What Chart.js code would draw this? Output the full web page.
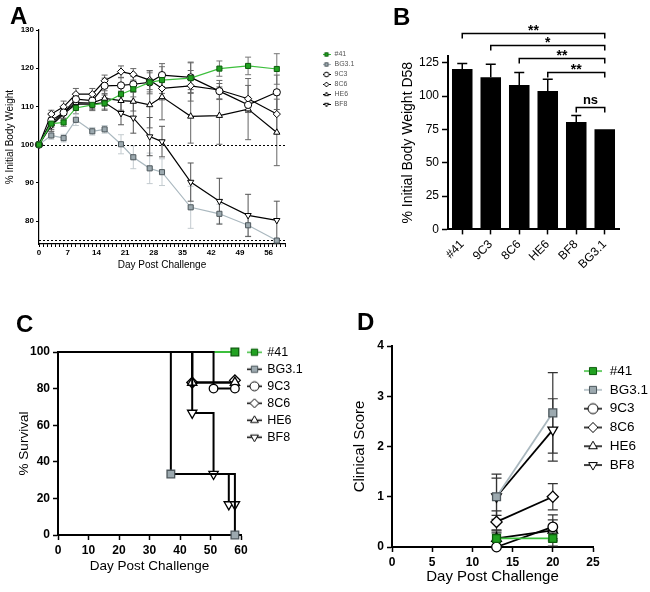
<!DOCTYPE html>
<html>
<head>
<meta charset="utf-8">
<script src="https://cdn.jsdelivr.net/npm/chart.js@4.4.1/dist/chart.umd.min.js"></script>
<style>
body{margin:0;background:#fff;}
#wrap{position:relative;width:650px;height:592px;overflow:hidden;}
canvas{position:absolute;}
.lbl{position:absolute;font:bold 24px "Liberation Sans",Arial,sans-serif;line-height:24px;}
</style>
</head>
<body>
<div id="wrap">
  <canvas id="chartA" width="390" height="300" style="left:0;top:0"></canvas>
  <canvas id="chartB" width="270" height="300" style="left:380px;top:0"></canvas>
  <canvas id="chartC" width="330" height="292" style="left:0;top:300px"></canvas>
  <canvas id="chartD" width="320" height="292" style="left:330px;top:300px"></canvas>
  <div class="lbl" style="left:10px;top:4px">A</div>
  <div class="lbl" style="left:393px;top:5px">B</div>
  <div class="lbl" style="left:16px;top:312px">C</div>
  <div class="lbl" style="left:357px;top:310px">D</div>
</div>
<script>
// groups, same order in every panel
const groups = ['#41', 'BG3.1', '9C3', '8C6', 'HE6', 'BF8'];

// A: body weight over time
const daysA = [0, 3, 6, 9, 13, 16, 20, 23, 27, 30, 37, 44, 51, 58];
const w41  = [100, 105.5, 105.8, 109.6, 110.4, 110.8, 113.2, 114.5, 116.3, 116.9, 117.4, 119.9, 120.6, 119.8];
const wBG  = [100, 102.4, 101.7, 106.5, 103.5, 104.0, 100.1, 96.7, 93.8, 92.8, 83.6, 81.9, 78.9, 74.9];
const w9C3 = [100, 106.3, 108.4, 111.9, 111.5, 115.4, 115.5, 115.8, 116.3, 118.2, 117.6, 114.0, 110.4, 113.7];
const w8C6 = [100, 108.0, 109.9, 113.2, 113.2, 116.7, 119.1, 118.4, 116.9, 114.7, 115.4, 114.3, 112.0, 108.0];
const wHE6 = [100, 105.5, 108.4, 111.0, 110.9, 112.1, 111.5, 111.3, 110.4, 112.5, 107.4, 107.6, 109.3, 103.2];
const wBF8 = [100, 105.0, 108.0, 110.6, 110.6, 111.0, 108.2, 107.0, 102.1, 100.8, 90.2, 85.2, 81.5, 80.2];
const e41  = [0, 1, 1, 1.5, 1.5, 1.5, 2, 2, 2.5, 3.5, 4, 2, 2.3, 4];
const eBG  = [0, 1, 1, 1.5, 1, 1, 2.5, 3, 4, 3.5, 5.5, 2.5, 3, 0.5];
const e9C3 = [0, 1.5, 1.5, 1.5, 1.5, 2, 2, 2, 3, 3, 4, 2, 2, 4.5];
const e8C6 = [0, 1, 1.5, 1.5, 1.5, 1.5, 1.5, 1.5, 2.5, 3, 4, 2.5, 3.5, 5];
const eHE6 = [0, 1.5, 1.5, 1.5, 1.5, 2, 2.5, 2.5, 6, 6, 7, 7.5, 8, 8.7];
const eBF8 = [0, 1.5, 1.5, 1.5, 1.5, 2, 3, 4, 5, 4, 5, 6, 5.5, 5];
const refLinesA = [100, 75];

// B: weight at day 58
const catsB = ['#41', '9C3', '8C6', 'HE6', 'BF8', 'BG3.1'];
const valsB = [120.3, 114.1, 108.3, 103.8, 80.5, 75];
const errB  = [4, 9.7, 9.3, 8.8, 4.8, 0];
const bracketFrom = ['#41', '9C3', '8C6', 'HE6', 'BF8'];
const bracketTo = 'BG3.1';
const bracketAt = [147.6, 138.3, 128.3, 118.3, 91.6];
const bracketText = ['**', '*', '**', '**', 'ns'];

// C: survival (Kaplan-Meier steps)
const c41x  = [0, 58],              c41y  = [100, 100];
const cBGx  = [0, 37, 58],          cBGy  = [100, 33.3, 0];
const c9C3x = [0, 51, 58],          c9C3y = [100, 80, 80];
const c8C6x = [0, 44, 58],          c8C6y = [100, 83.3, 84.5];
const cHE6x = [0, 44, 58],          cHE6y = [100, 83.3, 83.3];
const cBF8x = [0, 44, 51, 56, 58],  cBF8y = [100, 66.7, 33.3, 16.7, 16.7];

// D: clinical score
const daysD = [13, 20];
const s41 = [0.17, 0.17], sBG = [1.0, 2.67], s9C3 = [0, 0.4], s8C6 = [0.5, 1.0], sHE6 = [0.17, 0.33], sBF8 = [1.0, 2.33];
const d41 = [0.15, 0.15], dBG = [0.45, 0.8], d9C3 = [0, 0.24], d8C6 = [0.22, 0.26], dHE6 = [0.17, 0.21], dBF8 = [0.37, 0.62];

Chart.defaults.font.family = '"Liberation Sans", Arial, sans-serif';
Chart.defaults.color = '#000';
Chart.defaults.animation = false;
Chart.defaults.events = [];
Chart.defaults.plugins.tooltip.enabled = false;

const FONT = '"Liberation Sans", Arial, sans-serif';
const green = '#21a121', greenEdge = '#0c5c0c', greenLine = '#3cbf3c';
const grayFill = '#9ca9af', grayEdge = '#4d575c', grayLine = '#aab8bf';

const marks = [
  {style: 'rect', rot: 0, fill: green, edge: greenEdge},
  {style: 'rect', rot: 0, fill: grayFill, edge: grayEdge},
  {style: 'circle', rot: 0, fill: '#fff', edge: '#000'},
  {style: 'rectRot', rot: 0, fill: '#fff', edge: '#000'},
  {style: 'triangle', rot: 0, fill: '#fff', edge: '#000'},
  {style: 'triangle', rot: 180, fill: '#fff', edge: '#000'}
];

const pts = (xs, ys) => xs.map((x, i) => ({x: x, y: ys[i]}));

// line + marker picture for the legend
function icon(w, r, lineColor, lw, m) {
  const c = document.createElement('canvas');
  c.width = w; c.height = Math.ceil(r * 2 + 4);
  const ctx = c.getContext('2d');
  const cy = c.height / 2;
  ctx.strokeStyle = lineColor; ctx.lineWidth = lw;
  ctx.beginPath(); ctx.moveTo(0, cy); ctx.lineTo(w, cy); ctx.stroke();
  ctx.fillStyle = m.fill; ctx.strokeStyle = m.edge; ctx.lineWidth = 1;
  Chart.helpers.drawPoint(ctx, {pointStyle: m.style, rotation: m.rot, radius: r, borderWidth: 1}, w / 2, cy);
  return c;
}

function legend(size, pad, boxW, icons, dx, dy, color) {
  return {
    position: 'chartArea', align: 'start',
    labels: {
      usePointStyle: true, pointStyleWidth: boxW, padding: pad, color: color,
      font: {size: size},
      generateLabels: chart => chart.data.datasets.map((ds, i) => ({
        text: ds.label, pointStyle: icons[i], datasetIndex: i, lineWidth: 0, hidden: false, fontColor: color
      }))
    },
    dx: dx, dy: dy
  };
}

const moveLegend = {
  id: 'moveLegend',
  afterLayout(chart) {
    const lg = chart.legend, o = chart.options.plugins.legend;
    if (!lg || o.dx === undefined) return;
    const ca = chart.chartArea;
    const dx = ca.left + o.dx - lg.left, dy = ca.top + o.dy - lg.top;
    lg.left += dx; lg.right += dx; lg.top += dy; lg.bottom += dy;
  }
};

function drawErrors(chart, o) {
  const ctx = chart.ctx, ys = chart.scales.y;
  chart.data.datasets.forEach((ds, i) => {
    if (!ds.errors) return;
    const meta = chart.getDatasetMeta(i);
    meta.data.forEach((el, j) => {
      const e = ds.errors[j];
      if (!e) return;
      const v = typeof ds.data[j] === 'object' ? ds.data[j].y : ds.data[j];
      const top = ys.getPixelForValue(v + e);
      const bot = ys.getPixelForValue(o.upOnly ? v : v - e);
      ctx.save();
      ctx.strokeStyle = ds.errorColor || '#000';
      ctx.lineWidth = o.width || 1;
      ctx.beginPath();
      ctx.moveTo(el.x, top); ctx.lineTo(el.x, bot);
      ctx.moveTo(el.x - o.cap, top); ctx.lineTo(el.x + o.cap, top);
      if (!o.upOnly) { ctx.moveTo(el.x - o.cap, bot); ctx.lineTo(el.x + o.cap, bot); }
      ctx.stroke();
      ctx.restore();
    });
  });
}

const errorBars = {
  id: 'errorBars',
  beforeDatasetsDraw(chart, args, o) { if (o.cap && !o.front) drawErrors(chart, o); },
  afterDatasetsDraw(chart, args, o) { if (o.cap && o.front) drawErrors(chart, o); }
};

const refLines = {
  id: 'refLines',
  beforeDatasetsDraw(chart, args, o) {
    if (!o.values) return;
    const ctx = chart.ctx, ca = chart.chartArea, ys = chart.scales.y;
    ctx.save();
    ctx.setLineDash([2, 2]); ctx.strokeStyle = '#000'; ctx.lineWidth = 1;
    o.values.forEach(v => {
      const py = Math.round(ys.getPixelForValue(v)) + 0.5;
      ctx.beginPath(); ctx.moveTo(ca.left, py); ctx.lineTo(ca.right, py); ctx.stroke();
    });
    ctx.restore();
  }
};

const brackets = {
  id: 'brackets',
  afterDraw(chart, args, o) {
    if (!o.from) return;
    const ctx = chart.ctx, xs = chart.scales.x, ys = chart.scales.y;
    const x2 = xs.getPixelForValue(catsB.indexOf(o.to));
    ctx.save();
    ctx.strokeStyle = '#000'; ctx.fillStyle = '#000'; ctx.lineWidth = 1.5;
    ctx.textAlign = 'center'; ctx.textBaseline = 'alphabetic';
    o.from.forEach((f, i) => {
      const x1 = xs.getPixelForValue(catsB.indexOf(f));
      const py = Math.round(ys.getPixelForValue(o.at[i])) + 0.5;
      ctx.beginPath();
      ctx.moveTo(x1, py + 5); ctx.lineTo(x1, py); ctx.lineTo(x2, py); ctx.lineTo(x2, py + 5);
      ctx.stroke();
      const ns = o.text[i] === 'ns';
      ctx.font = 'bold ' + (ns ? 13 : 14) + 'px ' + FONT;
      ctx.fillText(o.text[i], (x1 + x2) / 2, py - (ns ? 4 : -1));
    });
    ctx.restore();
  }
};

Chart.register(moveLegend, errorBars, refLines, brackets);

function axis(o) {
  return Object.assign({
    type: 'linear',
    border: {display: true, color: '#000', width: o.bw || 2},
    grid: {display: true, drawOnChartArea: false, drawTicks: true, tickLength: o.tl || 5, color: '#000', tickWidth: o.tw || 1.5},
    ticks: {color: '#000', font: {size: o.fs, weight: o.fw || 'bold'}, padding: o.tp || 3, stepSize: o.step,
            autoSkip: false, maxRotation: 0, includeBounds: false},
    title: {display: true, text: o.title, font: {size: o.ts}, padding: {top: 4, bottom: 4}, color: '#000'},
    afterFit: s => { if (o.w) s.width = o.w; if (o.h) s.height = o.h; }
  }, o.extra || {});
}

// ---------- A ----------
const seriesA = [w41, wBG, w9C3, w8C6, wHE6, wBF8];
const errsA = [e41, eBG, e9C3, e8C6, eHE6, eBF8];
const lineA = [greenLine, grayLine, '#000', '#000', '#000', '#000'];
const errColA = ['#777', '#c3cbcf', '#666', '#666', '#666', '#555'];
const iconsA = marks.map((m, i) => icon(8, 2.4, lineA[i], 1, m));

const xA = axis({fs: 8, title: 'Day Post Challenge', ts: 10, h: 31, bw: 1.2, tl: 3, tw: 1, tp: 1, step: 1});
xA.min = 0; xA.max = 60;
xA.ticks.callback = v => (v % 7 === 0 && v <= 56) ? v : '';
const yA = axis({fs: 8, title: '% Initial Body Weight', ts: 10, w: 39, bw: 1.2, tl: 3, tw: 1, tp: 2, step: 10});
yA.min = 74; yA.max = 130;

new Chart(document.getElementById('chartA'), {
  type: 'line',
  data: {
    datasets: seriesA.map((s, i) => ({
      label: groups[i], data: pts(daysA, s), errors: errsA[i], errorColor: errColA[i],
      borderColor: lineA[i], borderWidth: 1.2, pointStyle: marks[i].style, rotation: marks[i].rot,
      pointRadius: 3.6, pointBackgroundColor: marks[i].fill, pointBorderColor: marks[i].edge,
      pointBorderWidth: 1, clip: false
    }))
  },
  options: {
    responsive: false,
    layout: {padding: {left: 0, top: 30, right: 105, bottom: 25}},
    scales: {x: xA, y: yA},
    plugins: {
      legend: legend(7, 3, 9, iconsA, 280, 18, '#555'),
      errorBars: {cap: 3, width: 1},
      refLines: {values: refLinesA}
    }
  }
});

// ---------- B ----------
const xB = axis({fs: 12, fw: 'normal', title: '', ts: 12, h: 70.6, tl: 5, tp: 3});
xB.type = 'category';
xB.title.display = false;
xB.grid.offset = false;
xB.ticks.maxRotation = 45; xB.ticks.minRotation = 45;
const yB = axis({fs: 12, fw: 'normal', title: '% Initial Body Weight D58', ts: 14, w: 52, tl: 6, tp: 3, step: 25});
yB.min = 0; yB.max = 130;

new Chart(document.getElementById('chartB'), {
  type: 'bar',
  data: {
    labels: catsB,
    datasets: [{label: 'D58', data: valsB, errors: errB, errorColor: '#000', backgroundColor: '#000',
                barPercentage: 0.72, categoryPercentage: 1}]
  },
  options: {
    responsive: false,
    layout: {padding: {left: 16, top: 56, right: 31, bottom: 0}},
    scales: {x: xB, y: yB},
    plugins: {
      legend: {display: false},
      errorBars: {cap: 5, width: 1.5, upOnly: true, front: true},
      brackets: {from: bracketFrom, to: bracketTo, at: bracketAt, text: bracketText}
    }
  }
});

// ---------- C ----------
const seriesCx = [c41x, cBGx, c9C3x, c8C6x, cHE6x, cBF8x];
const seriesCy = [c41y, cBGy, c9C3y, c8C6y, cHE6y, cBF8y];
const lineC = [greenLine, '#000', '#000', '#000', '#000', '#000'];
const orderC = [10, 1, 2, 5, 4, 3];
const iconsC = marks.map((m, i) => icon(15, 4.5, lineC[i], 1.5, m));
const xC = axis({fs: 12, title: 'Day Post Challenge', ts: 13.5, h: 43, step: 10});
xC.min = 0; xC.max = 60;
const yC = axis({fs: 12, title: '% Survival', ts: 13.5, w: 46, step: 20});
yC.min = 0; yC.max = 100;

new Chart(document.getElementById('chartC'), {
  type: 'line',
  data: {
    datasets: seriesCx.map((xs, i) => ({
      label: groups[i], data: pts(xs, seriesCy[i]), stepped: true,
      borderColor: lineC[i], borderWidth: 2, pointStyle: marks[i].style, rotation: marks[i].rot,
      pointRadius: xs.map((x, j) => j === 0 ? 0 : (marks[i].style === 'circle' ? 4.3 : 5.4)),
      pointBackgroundColor: marks[i].fill, pointBorderColor: marks[i].edge, pointBorderWidth: 1.3,
      order: orderC[i], clip: false
    }))
  },
  options: {
    responsive: false,
    layout: {padding: {left: 12, top: 52, right: 89, bottom: 14}},
    scales: {x: xC, y: yC},
    plugins: {legend: legend(12.5, 4.5, 13, iconsC, 185.5, -10.5, '#000')}
  }
});

// ---------- D ----------
const seriesD = [s41, sBG, s9C3, s8C6, sHE6, sBF8];
const errsD = [d41, dBG, d9C3, d8C6, dHE6, dBF8];
const lineD = [greenLine, grayLine, '#000', '#000', '#000', '#000'];
const iconsD = marks.map((m, i) => icon(18, 5, lineD[i], 1.5, m));
const xD = axis({fs: 12, title: 'Day Post Challenge', ts: 15, h: 43, step: 5});
xD.min = 0; xD.max = 25;
const yD = axis({fs: 12, title: 'Clinical Score', ts: 15, w: 45, step: 1});
yD.min = 0; yD.max = 4;

new Chart(document.getElementById('chartD'), {
  type: 'line',
  data: {
    datasets: seriesD.map((s, i) => ({
      label: groups[i], data: pts(daysD, s), errors: errsD[i], errorColor: '#333',
      borderColor: lineD[i], borderWidth: 1.8, pointStyle: marks[i].style, rotation: marks[i].rot,
      pointRadius: marks[i].style === 'circle' ? 4.8 : 5.6,
      pointBackgroundColor: marks[i].fill, pointBorderColor: marks[i].edge, pointBorderWidth: 1.3, clip: false
    }))
  },
  options: {
    responsive: false,
    layout: {padding: {left: 17, top: 46, right: 57, bottom: 2}},
    scales: {x: xD, y: yD},
    plugins: {
      legend: legend(13.5, 5.3, 20, iconsD, 185.7, 13, '#000'),
      errorBars: {cap: 5, width: 1.2}
    }
  }
});
</script>
</body>
</html>
